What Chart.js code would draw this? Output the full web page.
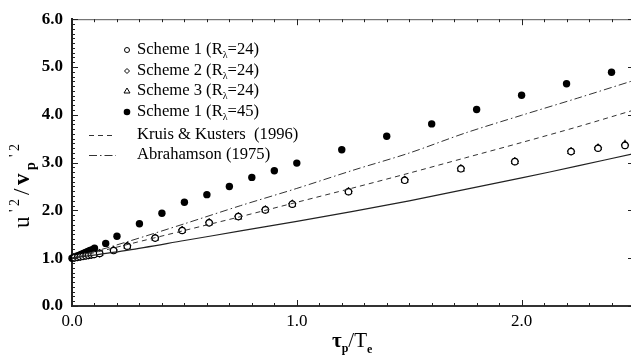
<!DOCTYPE html>
<html>
<head>
<meta charset="utf-8">
<script src="https://cdn.jsdelivr.net/npm/chart.js@4.4.1/dist/chart.umd.min.js"></script>
<style>
  html, body { margin: 0; padding: 0; background: #fff; overflow: hidden; }
  #wrap { width: 640px; height: 360px; }
</style>
</head>
<body>
<div id="wrap"><canvas id="c" width="640" height="360"></canvas></div>
<script>
// tick labels
const xTicks = [0, 1, 2];
const yTicks = [0, 1, 2, 3, 4, 5, 6];

// open symbols, R_lambda = 24 (three schemes nearly on top of each other)
const tau24 = [0.012, 0.025, 0.037, 0.049, 0.062, 0.074, 0.086, 0.098, 0.123, 0.185, 0.246, 0.37, 0.49, 0.61, 0.74, 0.86, 0.98, 1.23, 1.48, 1.73, 1.97, 2.22, 2.34, 2.46];
const scheme1R24 = [1.01, 1.02, 1.03, 1.04, 1.05, 1.06, 1.07, 1.08, 1.10, 1.16, 1.25, 1.42, 1.58, 1.74, 1.87, 2.01, 2.13, 2.39, 2.63, 2.87, 3.02, 3.23, 3.30, 3.36];
const scheme2R24 = [1.01, 1.02, 1.03, 1.04, 1.05, 1.06, 1.07, 1.08, 1.10, 1.17, 1.26, 1.43, 1.59, 1.75, 1.88, 2.02, 2.14, 2.40, 2.64, 2.88, 3.03, 3.24, 3.31, 3.37];
const scheme3R24 = [1.01, 1.02, 1.03, 1.04, 1.05, 1.06, 1.07, 1.08, 1.10, 1.16, 1.25, 1.42, 1.58, 1.74, 1.86, 2.01, 2.13, 2.39, 2.63, 2.86, 3.02, 3.23, 3.31, 3.39];

// filled circles, R_lambda = 45
const tau45 = [0, 0.01, 0.02, 0.03, 0.04, 0.05, 0.06, 0.07, 0.08, 0.09, 0.1, 0.15, 0.2, 0.3, 0.4, 0.5, 0.6, 0.7, 0.8, 0.9, 1.0, 1.2, 1.4, 1.6, 1.8, 2.0, 2.2, 2.4];
const scheme1R45 = [1.0, 1.02, 1.04, 1.06, 1.08, 1.10, 1.12, 1.14, 1.16, 1.18, 1.21, 1.31, 1.46, 1.72, 1.94, 2.17, 2.33, 2.50, 2.69, 2.83, 2.99, 3.27, 3.55, 3.81, 4.11, 4.41, 4.65, 4.89];

// model curves
const tauLine = [0, 0.25, 0.5, 0.75, 1.0, 1.25, 1.5, 1.75, 2.0, 2.25, 2.5];
const solidY = [1.0, 1.17, 1.37, 1.57, 1.77, 1.98, 2.20, 2.44, 2.68, 2.93, 3.19];
const kruisY = [1.0, 1.29, 1.58, 1.87, 2.17, 2.47, 2.78, 3.10, 3.42, 3.75, 4.10];
const abrahamsonY = [1.0, 1.35, 1.72, 2.10, 2.46, 2.84, 3.20, 3.62, 3.99, 4.35, 4.72];

const pts = (xs, ys) => xs.map((v, i) => ({ x: v, y: ys[i] }));
const SERIF = "'Liberation Serif', 'DejaVu Serif', serif";

// draws the inward ticks, the top/right frame, legend and axis titles
const decor = {
  id: 'decor',
  afterDraw(chart) {
    const { ctx, chartArea: a, scales: { x, y } } = chart;
    ctx.save();
    ctx.strokeStyle = '#555';
    ctx.lineWidth = 1;
    ctx.beginPath();
    ctx.moveTo(a.left, a.top + 0.5); ctx.lineTo(a.right, a.top + 0.5);
    ctx.moveTo(a.right - 0.5, a.top); ctx.lineTo(a.right - 0.5, a.bottom);
    ctx.stroke();

    ctx.strokeStyle = '#222';
    ctx.beginPath();
    for (let i = 0; i <= 25; i++) {
      const px = Math.round(x.getPixelForValue(i / 10)) + 0.5;
      const len = i % 10 === 0 ? 6 : 3;
      ctx.moveTo(px, a.bottom); ctx.lineTo(px, a.bottom - len);
      ctx.moveTo(px, a.top); ctx.lineTo(px, a.top + len);
    }
    for (let i = 0; i <= 60; i++) {
      const py = Math.round(y.getPixelForValue(i / 10)) + 0.5;
      const len = i % 10 === 0 ? 6 : 3;
      ctx.moveTo(a.left, py); ctx.lineTo(a.left + len, py);
      ctx.moveTo(a.right, py); ctx.lineTo(a.right - len, py);
    }
    ctx.stroke();

    // legend
    const mx = 127, tx = 137;
    const rows = [50, 71, 91, 112, 135, 155];
    const LF = '16.6px ' + SERIF;
    const labels = [['Scheme 1 (R', '=24)'], ['Scheme 2 (R', '=24)'], ['Scheme 3 (R', '=24)'], ['Scheme 1 (R', '=45)']];
    ctx.fillStyle = '#000';
    ctx.strokeStyle = '#000';
    ctx.lineWidth = 1;
    ctx.textBaseline = 'middle';
    labels.forEach((lb, i) => {
      const yy = rows[i];
      ctx.font = LF;
      let w = ctx.measureText(lb[0]).width;
      ctx.fillText(lb[0], tx, yy);
      ctx.font = '10px ' + SERIF;
      ctx.fillText('\u03bb', tx + w, yy + 5);
      w += ctx.measureText('\u03bb').width;
      ctx.font = LF;
      ctx.fillText(lb[1], tx + w, yy);
    });
    // legend markers
    ctx.beginPath(); ctx.arc(mx, rows[0], 2.5, 0, Math.PI * 2); ctx.stroke();
    ctx.beginPath();
    ctx.moveTo(mx, rows[1] - 2.5); ctx.lineTo(mx + 2.5, rows[1]); ctx.lineTo(mx, rows[1] + 2.5); ctx.lineTo(mx - 2.5, rows[1]); ctx.closePath(); ctx.stroke();
    ctx.beginPath();
    ctx.moveTo(mx, rows[2] - 3); ctx.lineTo(mx + 3, rows[2] + 2); ctx.lineTo(mx - 3, rows[2] + 2); ctx.closePath(); ctx.stroke();
    ctx.beginPath(); ctx.arc(mx, rows[3], 3.3, 0, Math.PI * 2); ctx.fill();
    ctx.strokeStyle = '#333';
    ctx.setLineDash([5, 4]);
    ctx.beginPath(); ctx.moveTo(89, rows[4] + 0.5); ctx.lineTo(116, rows[4] + 0.5); ctx.stroke();
    ctx.setLineDash([8, 3, 1.5, 3]);
    ctx.beginPath(); ctx.moveTo(89, rows[5] + 0.5); ctx.lineTo(116, rows[5] + 0.5); ctx.stroke();
    ctx.setLineDash([]);
    ctx.font = LF;
    ctx.fillText('Kruis & Kusters  (1996)', tx, rows[4]);
    ctx.fillText('Abrahamson (1975)', tx, rows[5]);

    // x title: tau_p / T_e
    ctx.textBaseline = 'alphabetic';
    let cx = 332;
    const by = 347;
    ctx.font = 'bold 21px ' + SERIF;
    ctx.fillText('\u03c4', cx, by); cx += ctx.measureText('\u03c4').width;
    ctx.font = 'bold 12px ' + SERIF;
    ctx.fillText('p', cx, by + 5); cx += ctx.measureText('p').width;
    ctx.font = '21px ' + SERIF;
    ctx.fillText('/T', cx, by); cx += ctx.measureText('/T').width;
    ctx.font = 'bold 12px ' + SERIF;
    ctx.fillText('e', cx, by + 6);

    // y title: u'^2 / v_p'^2, rotated
    ctx.translate(29, 228);
    ctx.rotate(-Math.PI / 2);
    ctx.font = '23px ' + SERIF;
    ctx.fillText('u', 0, 0);
    ctx.font = '14px ' + SERIF;
    ctx.fillText("' 2", 16, -10);
    ctx.font = '23px ' + SERIF;
    ctx.fillText('/', 33, 0);
    ctx.font = 'bold 23px ' + SERIF;
    ctx.fillText('v', 43, 0);
    ctx.font = 'bold 14px ' + SERIF;
    ctx.fillText('p', 58, 6);
    ctx.font = '14px ' + SERIF;
    ctx.fillText("' 2", 71, -10);
    ctx.restore();
  }
};

new Chart(document.getElementById('c'), {
  type: 'scatter',
  data: {
    datasets: [
      { type: 'line', data: pts(tauLine, solidY), borderColor: '#222', borderWidth: 1.2, pointRadius: 0, tension: 0.3 },
      { type: 'line', data: pts(tauLine, kruisY), borderColor: '#333', borderWidth: 1, borderDash: [5, 4], pointRadius: 0, tension: 0.3 },
      { type: 'line', data: pts(tauLine, abrahamsonY), borderColor: '#333', borderWidth: 1, borderDash: [8, 3, 1.5, 3], pointRadius: 0, tension: 0.3 },
      { data: pts(tau24, scheme1R24), pointStyle: 'circle', pointRadius: 3.2, borderColor: '#000', backgroundColor: '#fff', borderWidth: 1.2, clip: false },
      { data: pts(tau24, scheme2R24), pointStyle: 'rectRot', pointRadius: 3.4, borderColor: '#000', backgroundColor: 'rgba(255,255,255,0)', borderWidth: 1.2, clip: false },
      { data: pts(tau24, scheme3R24), pointStyle: 'triangle', pointRadius: 3.4, borderColor: '#000', backgroundColor: 'rgba(255,255,255,0)', borderWidth: 1.2, clip: false },
      { data: pts(tau45, scheme1R45), pointStyle: 'circle', pointRadius: 3.7, borderColor: '#000', backgroundColor: '#000', borderWidth: 0, clip: false }
    ]
  },
  options: {
    responsive: false,
    animation: false,
    devicePixelRatio: 1,
    layout: { padding: { top: 15, right: 6, left: 0, bottom: 0 } },
    plugins: { legend: { display: false }, tooltip: { enabled: false } },
    scales: {
      x: {
        type: 'linear', min: 0, max: 2.5,
        afterBuildTicks: s => { s.ticks = xTicks.map(v => ({ value: v })); },
        afterFit: s => { s.height = 54; },
        grid: { display: false, drawTicks: false },
        border: { display: true, color: '#333', width: 2 },
        ticks: { padding: 5, color: '#000', font: { family: SERIF, size: 17 }, callback: v => v.toFixed(1), maxRotation: 0, autoSkip: false }
      },
      y: {
        type: 'linear', min: 0, max: 6,
        afterBuildTicks: s => { s.ticks = yTicks.map(v => ({ value: v })); },
        afterFit: s => { s.width = 72; },
        grid: { display: false, drawTicks: false },
        border: { display: true, color: '#222', width: 2 },
        ticks: { padding: 9, color: '#000', font: { family: SERIF, size: 17, weight: 'bold' }, callback: v => v.toFixed(1), autoSkip: false }
      }
    }
  },
  plugins: [decor]
});
</script>
</body>
</html>
